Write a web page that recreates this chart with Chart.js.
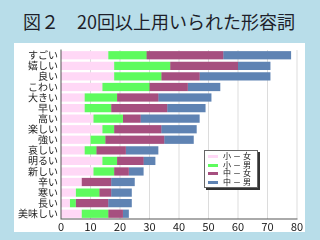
<!DOCTYPE html>
<html>
<head>
<meta charset="utf-8">
<script src="https://cdn.jsdelivr.net/npm/chart.js@4.4.0/dist/chart.umd.min.js"></script>
<style>
    html, body { margin: 0; padding: 0; }
    body {
        width: 320px; height: 240px; overflow: hidden;
        background: #b8dde9;
        position: relative;
        font-family: 'Noto Sans CJK JP', sans-serif;
    }
    #title {
        position: absolute; left: 23px; top: 9px;
        font-size: 18px; line-height: 24px; color: #1e1f2a;
        white-space: pre;
    }
    #panel {
        position: absolute; left: 14px; top: 43px;
        width: 291px; height: 189px;
        background: #fff;
    }
    #legend {
        position: absolute; left: 204px; top: 150px;
        width: 52px; height: 35px;
        background: #fff;
        border: 1px solid #666;
        box-shadow: 2px 2px 0 #333;
        font-family: 'Noto Sans CJK JP', sans-serif;
        font-size: 8px; color: #111;
        padding-top: 1px;
    }
    .item { height: 8.5px; position: relative; }
    .item span.swatch {
        position: absolute; left: 3px; top: 3px; width: 10px; height: 3px;
    }
    .item span.txt {
        position: absolute; left: 18px; top: -2px;
        line-height: 12px; letter-spacing: 2px; white-space: nowrap;
    }
</style>
</head>
<body>
<div id="title">図２　20回以上用いられた形容詞</div>
<div id="panel"><canvas id="chart" style="width:291px;height:189px"></canvas></div>
<div id="legend"></div>
<script>
// Adjectives (top to bottom)
const categories = ['すごい', '嬉しい', '良い', 'こわい', '大きい', '早い', '高い', '楽しい',
    '強い', '哀しい', '明るい', '新しい', '辛い', '寒い', '長い', '美味しい'];

// Counts per group
const elemGirls = [16, 18, 18, 14, 8, 8, 11, 14, 10, 8, 14, 11, 7, 5, 3, 7];
const elemBoys  = [13, 19, 16, 16, 11, 9, 10, 4, 5, 4, 5, 7, 0, 8, 2, 9];
const midGirls  = [26, 23, 13, 13, 14, 19, 6, 16, 20, 10, 9, 5, 10, 4, 11, 5];
const midBoys   = [23, 11, 24, 11, 18, 13, 20, 12, 10, 11, 4, 5, 8, 7, 8, 2];

const seriesLabels = ['小－女', '小－男', '中－女', '中－男'];
const seriesColors = ['#ffd8f6', '#5efb5e', '#a64f7f', '#5f83b3'];

const xTicks = [0, 10, 20, 30, 40, 50, 60, 70, 80];

const fontFamily = "Noto Sans CJK JP";

const datasets = [elemGirls, elemBoys, midGirls, midBoys].map((d, i) => ({
    label: seriesLabels[i],
    data: d,
    backgroundColor: seriesColors[i],
    borderWidth: 0,
    barPercentage: 0.78,
    categoryPercentage: 1.0
}));

const canvas = document.getElementById('chart');
canvas.width = 291;
canvas.height = 189;

// small CJK text came out garbled at 1x, so draw at 2x
new Chart(canvas.getContext('2d'), {
    type: 'bar',
    data: { labels: categories, datasets: datasets },
    options: {
        indexAxis: 'y',
        responsive: false,
        animation: false,
        devicePixelRatio: 2,
        layout: { padding: { top: 3, right: 8, left: 1, bottom: 0 } },
        plugins: {
            legend: { display: false },
            tooltip: { enabled: false }
        },
        scales: {
            x: {
                stacked: true,
                min: 0,
                max: 80,
                afterBuildTicks: function (scale) {
                    scale.ticks = xTicks.map(v => ({ value: v }));
                },
                afterFit: function (scale) { scale.height = 13; },
                grid: { color: '#dcdcdc', drawTicks: false },
                border: { color: '#555', width: 1 },
                ticks: {
                    color: '#222',
                    padding: 1,
                    maxRotation: 0,
                    minRotation: 0,
                    font: { family: fontFamily, size: 11 }
                }
            },
            y: {
                stacked: true,
                grid: { display: false, drawTicks: false },
                border: { color: '#555', width: 1 },
                ticks: {
                    color: '#222',
                    padding: 3,
                    autoSkip: true,
                    autoSkipPadding: 0,
                    maxRotation: 0,
                    minRotation: 0,
                    font: { family: fontFamily, size: 10, lineHeight: 0.8 }
                }
            }
        }
    }
});

// Legend box built from the same series definitions
const legend = document.getElementById('legend');
seriesLabels.forEach((label, i) => {
    const item = document.createElement('div');
    item.className = 'item';
    item.innerHTML = '<span class="swatch" style="background:' + seriesColors[i] + '"></span>' +
        '<span class="txt">' + label + '</span>';
    legend.appendChild(item);
});
</script>
</body>
</html>
